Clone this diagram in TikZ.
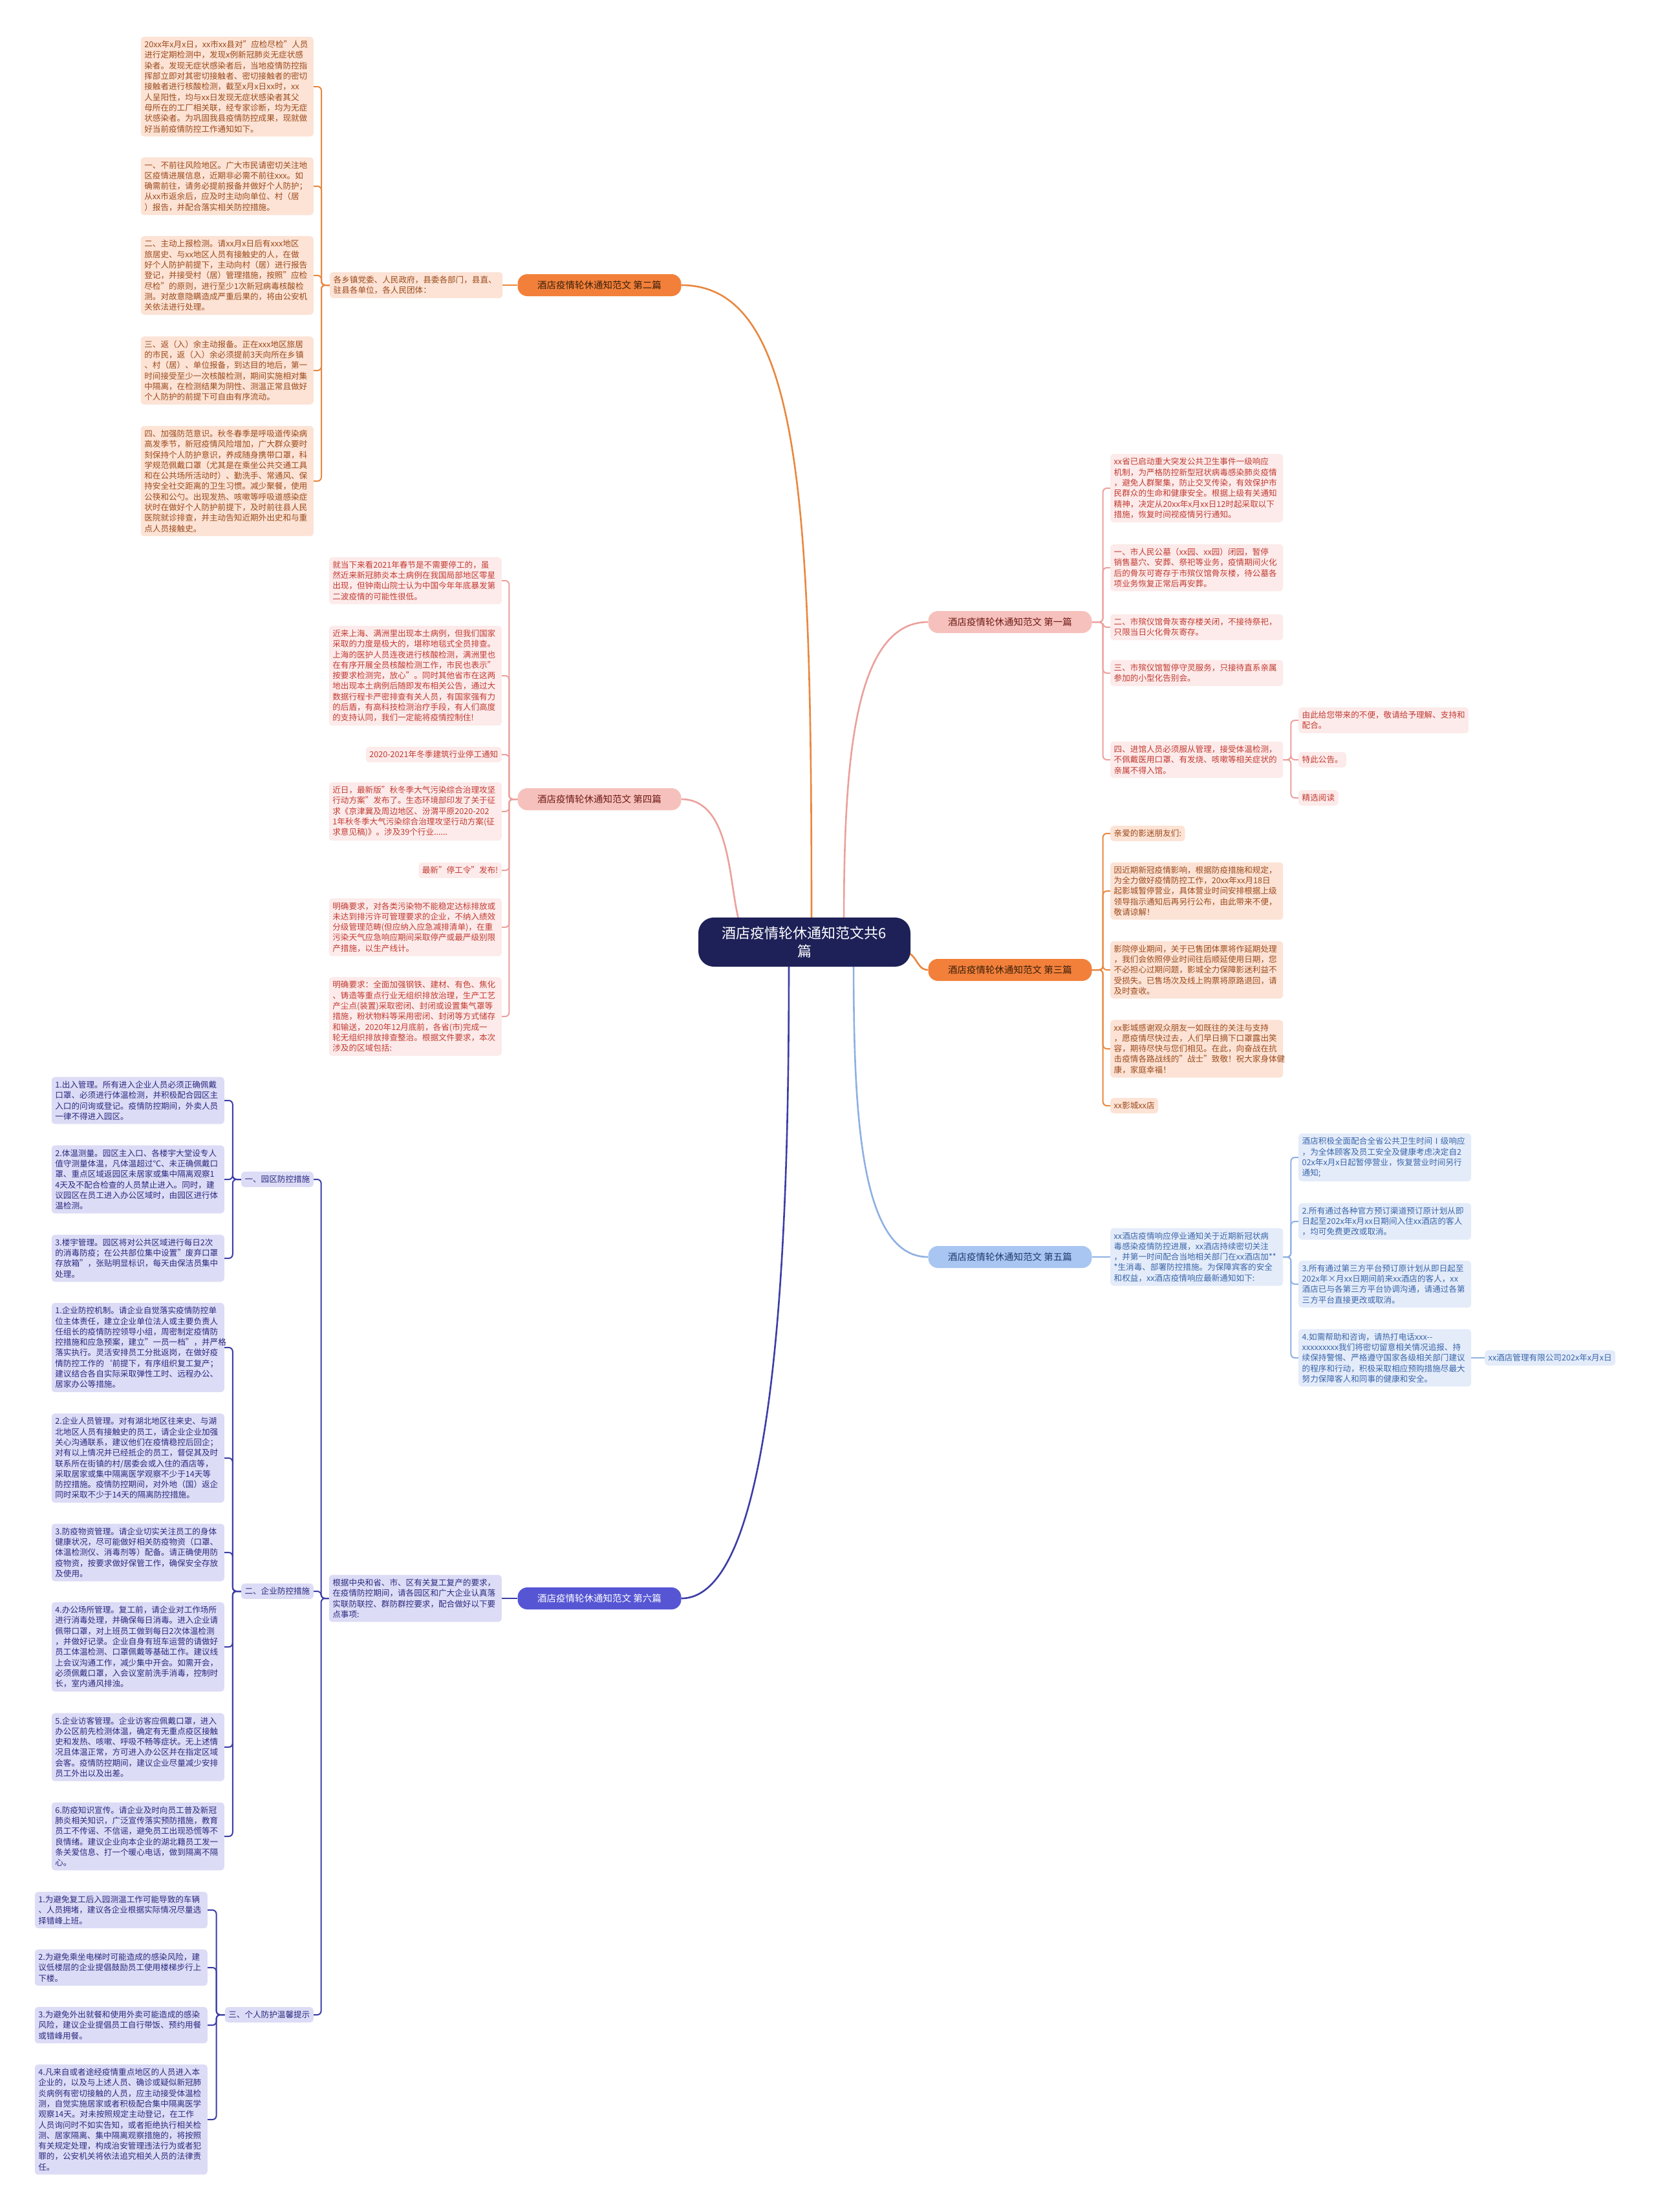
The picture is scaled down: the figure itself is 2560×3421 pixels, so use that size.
\documentclass[tikz,border=0pt]{standalone}
\usepackage{fontspec}
\setmainfont{Noto Sans CJK SC}
\usetikzlibrary{backgrounds}
\definecolor{cNavy}{HTML}{1E2157}
\definecolor{cOrNode}{HTML}{F2803A}
\definecolor{cOrLine}{HTML}{E9873F}
\definecolor{cOrFill}{HTML}{FCE3D5}
\definecolor{cOrText}{HTML}{9C4A1C}
\definecolor{cOrNText}{HTML}{3A1E0A}
\definecolor{cPkNode}{HTML}{F6C1BC}
\definecolor{cPkLine}{HTML}{EBA09C}
\definecolor{cPkFill}{HTML}{FCEBEA}
\definecolor{cPkText}{HTML}{C23B33}
\definecolor{cPkNText}{HTML}{6E1A16}
\definecolor{cBlNode}{HTML}{A9C6F2}
\definecolor{cBlLine}{HTML}{8EB0E3}
\definecolor{cBlFill}{HTML}{E4ECFA}
\definecolor{cBlText}{HTML}{3A66AA}
\definecolor{cBlNText}{HTML}{1E3B70}
\definecolor{cInNode}{HTML}{5656D4}
\definecolor{cInLine}{HTML}{3C3CA6}
\definecolor{cInFill}{HTML}{DCDCF6}
\definecolor{cInText}{HTML}{2C2A80}
\newcommand\leaffont{\fontsize{12.6}{16.3}\selectfont}
\newcommand\brfont{\fontsize{14.5}{17}\selectfont}
\tikzset{
  leaf/.style={rounded corners=5pt, inner xsep=5.5pt, inner ysep=6pt, font=\leaffont, align=left},
  wide/.style={text width=256pt},
  lO/.style={leaf, fill=cOrFill, text=cOrText},
  lP/.style={leaf, fill=cPkFill, text=cPkText},
  lB/.style={leaf, fill=cBlFill, text=cBlText},
  lI/.style={leaf, fill=cInFill, text=cInText},
  br/.style={rounded corners=15pt, minimum width=253pt, minimum height=34pt, font=\brfont, inner sep=4pt},
  brO/.style={br, fill=cOrNode, text=cOrNText},
  brP/.style={br, fill=cPkNode, text=cPkNText},
  brB/.style={br, fill=cBlNode, text=cBlNText},
  brI/.style={br, fill=cInNode, text=white},
  con/.style={line width=2pt, rounded corners=6pt},
  cO/.style={con, draw=cOrLine},
  cP/.style={con, draw=cPkLine},
  cB/.style={con, draw=cBlLine},
  cI/.style={con, draw=cInLine},
  main/.style={line width=2.6pt}
}
\begin{document}
\begin{tikzpicture}[x=1pt,y=-1pt]
\begin{scope}[on background layer]
\fill[white] (0,0) rectangle (2560,3421);
\end{scope}
\useasboundingbox (0,0) rectangle (2560,3421);

% center
\node[fill=cNavy, text=white, rounded corners=24pt, minimum width=328pt, minimum height=76pt, align=center, font=\fontsize{22}{28}\selectfont] (C) at (1244,1457) {酒店疫情轮休通知范文共6\\篇};

% level 1
\node[brO] (b2) at (927,441) {酒店疫情轮休通知范文 第二篇};
\node[brP] (b4) at (927,1236) {酒店疫情轮休通知范文 第四篇};
\node[brI] (b6) at (927,2472) {酒店疫情轮休通知范文 第六篇};
\node[brP] (b1) at (1562,962) {酒店疫情轮休通知范文 第一篇};
\node[brO] (b3) at (1562,1500) {酒店疫情轮休通知范文 第三篇};
\node[brB] (b5) at (1562,1944) {酒店疫情轮休通知范文 第五篇};

% branch 2
\node[lO, wide, anchor=west] (b2i) at (510,441) {各乡镇党委、人民政府，县委各部门，县直、\\驻县各单位，各人民团体：};
\node[lO, wide, anchor=east] (b2a) at (485,134) {20xx年x月x日，xx市xx县对"应检尽检"人员\\进行定期检测中，发现x例新冠肺炎无症状感\\染者。发现无症状感染者后，当地疫情防控指\\挥部立即对其密切接触者、密切接触者的密切\\接触者进行核酸检测，截至x月x日xx时，xx\\人呈阳性，均与xx日发现无症状感染者其父\\母所在的工厂相关联，经专家诊断，均为无症\\状感染者。为巩固我县疫情防控成果，现就做\\好当前疫情防控工作通知如下。};
\node[lO, wide, anchor=east] (b2b) at (485,288) {一、不前往风险地区。广大市民请密切关注地\\区疫情进展信息，近期非必需不前往xxx。如\\确需前往，请务必提前报备并做好个人防护；\\从xx市返余后，应及时主动向单位、村（居\\）报告，并配合落实相关防控措施。};
\node[lO, wide, anchor=east] (b2c) at (485,426) {二、主动上报检测。请xx月x日后有xxx地区\\旅居史、与xx地区人员有接触史的人，在做\\好个人防护前提下，主动向村（居）进行报告\\登记，并接受村（居）管理措施，按照"应检\\尽检"的原则，进行至少1次新冠病毒核酸检\\测。对故意隐瞒造成严重后果的，将由公安机\\关依法进行处理。};
\node[lO, wide, anchor=east] (b2d) at (485,573) {三、返（入）余主动报备。正在xxx地区旅居\\的市民，返（入）余必须提前3天向所在乡镇\\、村（居）、单位报备，到达目的地后，第一\\时间接受至少一次核酸检测，期间实施相对集\\中隔离，在检测结果为阴性、测温正常且做好\\个人防护的前提下可自由有序流动。};
\node[lO, wide, anchor=east] (b2e) at (485,744) {四、加强防范意识。秋冬春季是呼吸道传染病\\高发季节，新冠疫情风险增加，广大群众要时\\刻保持个人防护意识，养成随身携带口罩，科\\学规范佩戴口罩（尤其是在乘坐公共交通工具\\和在公共场所活动时）、勤洗手、常通风、保\\持安全社交距离的卫生习惯。减少聚餐，使用\\公筷和公勺。出现发热、咳嗽等呼吸道感染症\\状时在做好个人防护前提下，及时前往县人民\\医院就诊排查，并主动告知近期外出史和与重\\点人员接触史。};

% branch 4
\node[lP, wide, anchor=east] (b4a) at (776,898) {就当下来看2021年春节是不需要停工的，虽\\然近来新冠肺炎本土病例在我国局部地区零星\\出现，但钟南山院士认为中国今年年底暴发第\\二波疫情的可能性很低。};
\node[lP, wide, anchor=east] (b4b) at (776,1045) {近来上海、满洲里出现本土病例，但我们国家\\采取的力度是极大的，堪称地毯式全员排查。\\上海的医护人员连夜进行核酸检测，满洲里也\\在有序开展全员核酸检测工作，市民也表示"\\按要求检测完，放心"。同时其他省市在这两\\地出现本土病例后随即发布相关公告，通过大\\数据行程卡严密排查有关人员，有国家强有力\\的后盾，有高科技检测治疗手段，有人们高度\\的支持认同，我们一定能将疫情控制住!};
\node[lP, anchor=east] (b4c) at (776,1167) {2020-2021年冬季建筑行业停工通知};
\node[lP, wide, anchor=east] (b4d) at (776,1255) {近日，最新版"秋冬季大气污染综合治理攻坚\\行动方案"发布了。生态环境部印发了关于征\\求《京津冀及周边地区、汾渭平原2020-202\\1年秋冬季大气污染综合治理攻坚行动方案(征\\求意见稿)》。涉及39个行业......};
\node[lP, anchor=east] (b4e) at (776,1346) {最新"停工令"发布!};
\node[lP, wide, anchor=east] (b4f) at (776,1434) {明确要求，对各类污染物不能稳定达标排放或\\未达到排污许可管理要求的企业，不纳入绩效\\分级管理范畴(但应纳入应急减排清单)，在重\\污染天气应急响应期间采取停产或最严级别限\\产措施，以生产线计。};
\node[lP, wide, anchor=east] (b4g) at (776,1572) {明确要求：全面加强钢铁、建材、有色、焦化\\、铸造等重点行业无组织排放治理，生产工艺\\产尘点(装置)采取密闭、封闭或设置集气罩等\\措施，粉状物料等采用密闭、封闭等方式储存\\和输送，2020年12月底前，各省(市)完成一\\轮无组织排放排查整治。根据文件要求，本次\\涉及的区域包括:};

% branch 6
\node[lI, wide, anchor=east] (b6i) at (776,2472) {根据中央和省、市、区有关复工复产的要求，\\在疫情防控期间，请各园区和广大企业认真落\\实联防联控、群防群控要求，配合做好以下要\\点事项:};
\node[lI, anchor=east] (s1) at (485,1824) {一、园区防控措施};
\node[lI, anchor=east] (s2) at (485,2461) {二、企业防控措施};
\node[lI, anchor=east] (s3) at (485,3116) {三、个人防护温馨提示};
\node[lI, wide, anchor=east] (s1a) at (347,1702) {1.出入管理。所有进入企业人员必须正确佩戴\\口罩、必须进行体温检测，并积极配合园区主\\入口的问询或登记。疫情防控期间，外卖人员\\一律不得进入园区。};
\node[lI, wide, anchor=east] (s1b) at (347,1824) {2.体温测量。园区主入口、各楼宇大堂设专人\\值守测量体温，凡体温超过℃、未正确佩戴口\\罩、重点区域返园区未居家或集中隔离观察1\\4天及不配合检查的人员禁止进入。同时，建\\议园区在员工进入办公区域时，由园区进行体\\温检测。};
\node[lI, wide, anchor=east] (s1c) at (347,1946) {3.楼宇管理。园区将对公共区域进行每日2次\\的消毒防疫；在公共部位集中设置"废弃口罩\\存放箱"，张贴明显标识，每天由保洁员集中\\处理。};
\node[lI, wide, anchor=east] (s2a) at (347,2084) {1.企业防控机制。请企业自觉落实疫情防控单\\位主体责任，建立企业单位法人或主要负责人\\任组长的疫情防控领导小组，周密制定疫情防\\控措施和应急预案，建立"一员一档"，并严格\\落实执行。灵活安排员工分批返岗，在做好疫\\情防控工作的`前提下，有序组织复工复产；\\建议结合各自实际采取弹性工时、远程办公、\\居家办公等措施。};
\node[lI, wide, anchor=east] (s2b) at (347,2255) {2.企业人员管理。对有湖北地区往来史、与湖\\北地区人员有接触史的员工，请企业企业加强\\关心沟通联系，建议他们在疫情稳控后回企；\\对有以上情况并已经抵企的员工，督促其及时\\联系所在街镇的村/居委会或入住的酒店等，\\采取居家或集中隔离医学观察不少于14天等\\防控措施。疫情防控期间，对外地（国）返企\\同时采取不少于14天的隔离防控措施。};
\node[lI, wide, anchor=east] (s2c) at (347,2401) {3.防疫物资管理。请企业切实关注员工的身体\\健康状况，尽可能做好相关防疫物资（口罩、\\体温检测仪、消毒剂等）配备。请正确使用防\\疫物资，按要求做好保管工作，确保安全存放\\及使用。};
\node[lI, wide, anchor=east] (s2d) at (347,2547) {4.办公场所管理。复工前，请企业对工作场所\\进行消毒处理，并确保每日消毒。进入企业请\\佩带口罩，对上班员工做到每日2次体温检测\\，并做好记录。企业自身有班车运营的请做好\\员工体温检测、口罩佩戴等基础工作。建议线\\上会议沟通工作，减少集中开会。如需开会，\\必须佩戴口罩，入会议室前洗手消毒，控制时\\长，室内通风排浊。};
\node[lI, wide, anchor=east] (s2e) at (347,2702) {5.企业访客管理。企业访客应佩戴口罩，进入\\办公区前先检测体温，确定有无重点疫区接触\\史和发热、咳嗽、呼吸不畅等症状。无上述情\\况且体温正常，方可进入办公区并在指定区域\\会客。疫情防控期间，建议企业尽量减少安排\\员工外出以及出差。};
\node[lI, wide, anchor=east] (s2f) at (347,2840) {6.防疫知识宣传。请企业及时向员工普及新冠\\肺炎相关知识，广泛宣传落实预防措施，教育\\员工不传谣、不信谣，避免员工出现恐慌等不\\良情绪。建议企业向本企业的湖北籍员工发一\\条关爱信息、打一个暖心电话，做到隔离不隔\\心。};
\node[lI, wide, anchor=east] (s3a) at (321,2954) {1.为避免复工后入园测温工作可能导致的车辆\\、人员拥堵，建议各企业根据实际情况尽量选\\择错峰上班。};
\node[lI, wide, anchor=east] (s3b) at (321,3043) {2.为避免乘坐电梯时可能造成的感染风险，建\\议低楼层的企业提倡鼓励员工使用楼梯步行上\\下楼。};
\node[lI, wide, anchor=east] (s3c) at (321,3132) {3.为避免外出就餐和使用外卖可能造成的感染\\风险，建议企业提倡员工自行带饭、预约用餐\\或错峰用餐。};
\node[lI, wide, anchor=east] (s3d) at (321,3278) {4.凡来自或者途经疫情重点地区的人员进入本\\企业的，以及与上述人员、确诊或疑似新冠肺\\炎病例有密切接触的人员，应主动接受体温检\\测，自觉实施居家或者积极配合集中隔离医学\\观察14天。对未按照规定主动登记，在工作\\人员询问时不如实告知，或者拒绝执行相关检\\测、居家隔离、集中隔离观察措施的，将按照\\有关规定处理，构成治安管理违法行为或者犯\\罪的，公安机关将依法追究相关人员的法律责\\任。};

% branch 1
\node[lP, wide, anchor=west] (b1a) at (1717,755) {xx省已启动重大突发公共卫生事件一级响应\\机制，为严格防控新型冠状病毒感染肺炎疫情\\，避免人群聚集，防止交叉传染，有效保护市\\民群众的生命和健康安全。根据上级有关通知\\精神，决定从20xx年x月xx日12时起采取以下\\措施，恢复时间视疫情另行通知。};
\node[lP, wide, anchor=west] (b1b) at (1717,878) {一、市人民公墓（xx园、xx园）闭园，暂停\\销售墓穴、安葬、祭祀等业务，疫情期间火化\\后的骨灰可寄存于市殡仪馆骨灰楼，待公墓各\\项业务恢复正常后再安葬。};
\node[lP, wide, anchor=west] (b1c) at (1717,970) {二、市殡仪馆骨灰寄存楼关闭，不接待祭祀，\\只限当日火化骨灰寄存。};
\node[lP, wide, anchor=west] (b1d) at (1717,1041) {三、市殡仪馆暂停守灵服务，只接待直系亲属\\参加的小型化告别会。};
\node[lP, wide, anchor=west] (b1e) at (1717,1175) {四、进馆人员必须服从管理，接受体温检测，\\不佩戴医用口罩、有发烧、咳嗽等相关症状的\\亲属不得入馆。};
\node[lP, anchor=west, text width=252pt] (b1f) at (2008,1114) {由此给您带来的不便，敬请给予理解、支持和\\配合。};
\node[lP, anchor=west] (b1g) at (2008,1175) {特此公告。};
\node[lP, anchor=west] (b1h) at (2008,1234) {精选阅读};

% branch 3
\node[lO, anchor=west] (b3a) at (1717,1289) {亲爱的影迷朋友们:};
\node[lO, wide, anchor=west] (b3b) at (1717,1378) {因近期新冠疫情影响，根据防疫措施和规定，\\为全力做好疫情防控工作，20xx年xx月18日\\起影城暂停营业，具体营业时间安排根据上级\\领导指示通知后再另行公布，由此带来不便，\\敬请谅解！};
\node[lO, wide, anchor=west] (b3c) at (1717,1500) {影院停业期间，关于已售团体票将作延期处理\\，我们会依照停业时间往后顺延使用日期，您\\不必担心过期问题，影城全力保障影迷利益不\\受损失。已售场次及线上购票将原路退回，请\\及时查收。};
\node[lO, wide, anchor=west] (b3d) at (1717,1622) {xx影城感谢观众朋友一如既往的关注与支持\\，愿疫情尽快过去，人们早日摘下口罩露出笑\\容，期待尽快与您们相见。在此，向奋战在抗\\击疫情各路战线的"战士"致敬！祝大家身体健\\康，家庭幸福！};
\node[lO, anchor=west] (b3e) at (1717,1710) {xx影城xx店};

% branch 5
\node[lB, wide, anchor=west] (b5i) at (1717,1944) {xx酒店疫情响应停业通知关于近期新冠状病\\毒感染疫情防控进展，xx酒店持续密切关注\\，并第一时间配合当地相关部门在xx酒店加**\\**生消毒、部署防控措施。为保障宾客的安全\\和权益，xx酒店疫情响应最新通知如下:};
\node[lB, wide, anchor=west] (b5a) at (2008,1790) {酒店积极全面配合全省公共卫生时间Ⅰ级响应\\，为全体顾客及员工安全及健康考虑决定自2\\02x年x月x日起暂停营业，恢复营业时间另行\\通知;};
\node[lB, wide, anchor=west] (b5b) at (2008,1889) {2.所有通过各种官方预订渠道预订原计划从即\\日起至202x年x月xx日期间入住xx酒店的客人\\，均可免费更改或取消。};
\node[lB, wide, anchor=west] (b5c) at (2008,1986) {3.所有通过第三方平台预订原计划从即日起至\\202x年×月xx日期间前来xx酒店的客人，xx\\酒店已与各第三方平台协调沟通，请通过各第\\三方平台直接更改或取消。};
\node[lB, wide, anchor=west] (b5d) at (2008,2100) {4.如需帮助和咨询，请热打电话xxx-{}-\\xxxxxxxxx我们将密切留意相关情况追报、持\\续保持警惕、严格遵守国家各级相关部门建议\\的程序和行动，积极采取相应预购措施尽最大\\努力保障客人和同事的健康和安全。};
\node[lB, anchor=west] (b5e) at (2296,2100) {xx酒店管理有限公司202x年x月x日};

% connectors
\begin{scope}[on background layer]
\draw[main, cOrLine] (b2.east) .. controls (1245,441) and (1255,800) .. (1255,1440);
\draw[main, cPkLine] (b4.east) .. controls (1150,1236) and (1120,1440) .. (1160,1450);
\draw[main, cInLine] (b6.east) .. controls (1215,2472) and (1220,1800) .. (1220,1470);
\draw[main, cPkLine] (b1.west) .. controls (1315,962) and (1305,1200) .. (1305,1440);
\draw[main, cOrLine] (1390,1470) .. controls (1420,1470) and (1415,1500) .. (b3.west);
\draw[main, cBlLine] (b5.west) .. controls (1325,1944) and (1320,1700) .. (1320,1470);

\draw[cO] (b2.west) -- (b2i.east);
\foreach \n in {b2a,b2b,b2c,b2d,b2e} \draw[cO] (b2i.west) -- ++(-13,0) |- (\n.east);
\foreach \n in {b4a,b4b,b4c,b4d,b4e,b4f,b4g} \draw[cP] (b4.west) -- ++(-13,0) |- (\n.east);
\draw[cI] (b6.west) -- (b6i.east);
\foreach \n in {s1,s2,s3} \draw[cI] (b6i.west) -- ++(-12,0) |- (\n.east);
\foreach \n in {s1a,s1b,s1c} \draw[cI] (s1.west) -- ++(-13,0) |- (\n.east);
\foreach \n in {s2a,s2b,s2c,s2d,s2e,s2f} \draw[cI] (s2.west) -- ++(-13,0) |- (\n.east);
\foreach \n in {s3a,s3b,s3c,s3d} \draw[cI] (s3.west) -- ++(-13,0) |- (\n.east);
\foreach \n in {b1a,b1b,b1c,b1d,b1e} \draw[cP] (b1.east) -- ++(17,0) |- (\n.west);
\foreach \n in {b1f,b1g,b1h} \draw[cP] (b1e.east) -- ++(12,0) |- (\n.west);
\foreach \n in {b3a,b3b,b3c,b3d,b3e} \draw[cO] (b3.east) -- ++(17,0) |- (\n.west);
\draw[cB] (b5.east) -- (b5i.west);
\foreach \n in {b5a,b5b,b5c,b5d} \draw[cB] (b5i.east) -- ++(12,0) |- (\n.west);
\draw[cB] (b5d.east) -- (b5e.west);
\end{scope}
\end{tikzpicture}
\end{document}
